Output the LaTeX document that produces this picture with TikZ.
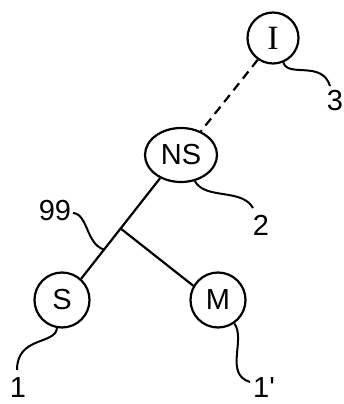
\documentclass[tikz,border=0pt]{standalone}
\usepackage{fontspec}
\setmainfont{Liberation Sans}
\newfontfamily\serifI{Liberation Serif}
\usetikzlibrary{shapes.geometric}
\begin{document}
\begin{tikzpicture}[x=1pt,y=1pt,line width=2.2pt,
  circ/.style={draw,circle,inner sep=0pt,minimum size=55pt,font=\fontsize{29}{31}\selectfont},
  ell/.style={draw,ellipse,inner sep=0pt,minimum width=72pt,minimum height=54pt,font=\fontsize{29}{31}\selectfont},
  lbl/.style={inner sep=0pt,font=\fontsize{29}{31}\selectfont},
  leader/.style={line width=2pt}]
\useasboundingbox (0,0) rectangle (344,-404);
\node[circ,minimum size=51pt,font=\fontsize{34}{36}\serifI] (I) at (273,-38) {I};
\node[ell] (NS) at (181,-155) {NS};
\node[circ] (S) at (62,-300) {S};
\node[circ] (M) at (218,-300) {M};
\node[lbl] (n3) at (335,-101) {3};
\node[lbl] (n2) at (261,-225) {2};
\node[lbl] (n99) at (55,-211) {99};
\node[lbl] (n1) at (18,-388) {1};
\node[lbl] (n1p) at (264,-388) {1\textquotesingle};
\draw[dash pattern=on 9pt off 6pt] (I.235) -- (NS.50);
\draw (NS.228) -- (S.48) coordinate[pos=0.5] (v) coordinate[pos=0.71] (w);
\draw (v) -- (M.150);
\coordinate (c99) at (73,-213);
\coordinate (c3) at (330,-86);
\coordinate (c2) at (253,-208);
\coordinate (c1) at (17,-370);
\coordinate (c1p) at (250,-382);
\draw[leader] (c99) .. controls (88,-214) and (86,-244) .. (w);
\draw[leader] (I.293) .. controls (288,-78) and (322,-60) .. (c3);
\draw[leader] (NS.-62) .. controls (205,-200) and (242,-188) .. (c2);
\draw[leader] (S.-100) .. controls (55,-345) and (17,-336) .. (c1);
\draw[leader] (M.-55) .. controls (246,-340) and (224,-374) .. (c1p);
\end{tikzpicture}
\end{document}
